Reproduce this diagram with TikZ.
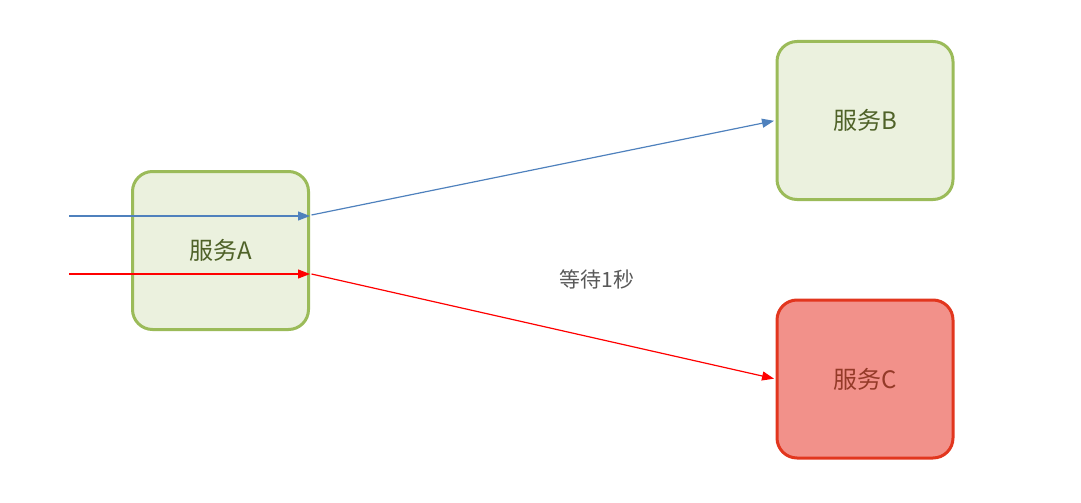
\documentclass[tikz,border=0pt]{standalone}
\usepackage{fontspec}
\setmainfont{Noto Sans CJK SC}
\usetikzlibrary{arrows.meta}
\definecolor{gstroke}{HTML}{9BBB59}
\definecolor{gfill}{HTML}{EBF1DE}
\definecolor{gtext}{HTML}{4F6228}
\definecolor{rstroke}{HTML}{E2361E}
\definecolor{rfill}{HTML}{F2918A}
\definecolor{rtext}{HTML}{943A28}
\definecolor{bline}{HTML}{4F81BD}
\definecolor{rline}{HTML}{FF0000}
\definecolor{lbl}{HTML}{595959}
\tikzset{
  svc/.style={draw=gstroke, fill=gfill, line width=3pt, rounded corners=20pt,
    minimum width=176pt, minimum height=158pt, inner sep=0pt, text=gtext,
    font=\fontsize{24pt}{28pt}\selectfont},
  svcbad/.style={svc, draw=rstroke, fill=rfill, text=rtext},
  bluearrow/.style={draw=bline, line width=1.2pt, -{Triangle[length=12pt,width=9pt]}},
  redarrow/.style={draw=rline, line width=1.2pt, -{Triangle[length=12pt,width=9pt]}},
  lblstyle/.style={text=lbl, font=\fontsize{21pt}{24pt}\selectfont}
}
\begin{document}
\begin{tikzpicture}[x=1pt,y=-1pt]
\useasboundingbox (0,0) rectangle (1081,503);
\node[svc] (A) at (220.5,250.5) {服务A};
\node[svc] (B) at (865,120.5) {服务B};
\node[svcbad] (C) at (865,379) {服务C};
\coordinate (inb) at (69,216);
\coordinate (inr) at (69,274);
\coordinate (ab) at (311.5,215);
\coordinate (ar) at (311.5,274);
\draw[bluearrow] (inb) -- (inb -| A.east);
\draw[redarrow] (inr) -- (inr -| A.east);
\draw[bluearrow, shorten >=1.5pt] (ab) -- (B.west);
\draw[redarrow, shorten >=1.5pt] (ar) -- (C.west);
\node[lblstyle] (wait) at (597,279) {等待1秒};
\end{tikzpicture}
\end{document}
